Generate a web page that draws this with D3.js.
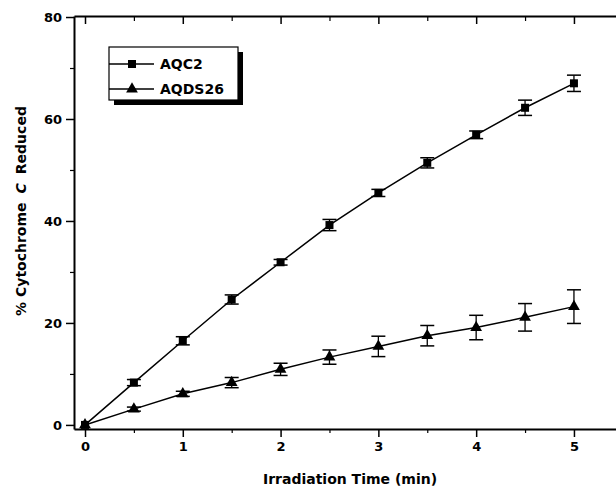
<!DOCTYPE html>
<html>
<head>
<meta charset="utf-8">
<script src="https://cdn.jsdelivr.net/npm/d3@7"></script>
<style>
  body { margin: 0; background: #fff; }
  svg text { font-family: "DejaVu Sans", "Liberation Sans", Arial, sans-serif; fill: #000; }
  .axis path, .axis line { stroke: #000; }
</style>
</head>
<body>
<div id="chart"></div>
<script>
// data
var times   = [0, 0.5, 1, 1.5, 2, 2.5, 3, 3.5, 4, 4.5, 5];
var aqc2    = [0, 8.3, 16.5, 24.6, 31.9, 39.2, 45.5, 51.4, 56.9, 62.2, 67.0];
var aqc2Err = [0.3, 0.6, 0.8, 0.9, 0.55, 1.1, 0.7, 1.0, 0.75, 1.5, 1.6];
var aqds26    = [0, 3.1, 6.1, 8.3, 10.9, 13.3, 15.4, 17.5, 19.1, 21.1, 23.2];
var aqds26Err = [0.3, 0.4, 0.5, 1.0, 1.2, 1.4, 2.0, 2.0, 2.4, 2.7, 3.3];

var xMajor = [0, 1, 2, 3, 4, 5];
var xMinor = [0.5, 1.5, 2.5, 3.5, 4.5];
var yMajor = [0, 20, 40, 60, 80];
var yMinor = [10, 30, 50, 70];

var seriesNames = ["AQC2", "AQDS26"];

var W = 616, H = 487;
var svg = d3.select("#chart").append("svg").attr("width", W).attr("height", H);

var x = d3.scaleLinear().domain([-0.1125, 5.43]).range([74, 616]);
var y = d3.scaleLinear().domain([-0.8, 80.2]).range([429, 16]);

//////////// AXES ////////////

// bottom
svg.append("g").attr("class", "axis").attr("transform", "translate(0," + y(-0.8) + ")")
    .call(d3.axisBottom(x).tickValues(xMajor).tickSize(8).tickSizeOuter(0).tickPadding(5).tickFormat(d3.format("d")))
    .call(function(g) {
        g.select(".domain").attr("stroke-width", 2);
        g.selectAll("line").attr("stroke-width", 1.5);
        g.selectAll("text").attr("font-size", 13).attr("font-weight", "bold");
    });
svg.append("g").attr("class", "axis").attr("transform", "translate(0," + y(-0.8) + ")")
    .call(d3.axisBottom(x).tickValues(xMinor).tickSize(4).tickSizeOuter(0).tickFormat(""))
    .call(function(g) { g.select(".domain").remove(); g.selectAll("line").attr("stroke-width", 1.2); });

// top, ticks pointing in
svg.append("g").attr("class", "axis").attr("transform", "translate(0," + y(80.2) + ")")
    .call(d3.axisTop(x).tickValues(xMajor).tickSize(-8).tickSizeOuter(0).tickFormat(""))
    .call(function(g) { g.select(".domain").attr("stroke-width", 2); g.selectAll("line").attr("stroke-width", 1.5); });
svg.append("g").attr("class", "axis").attr("transform", "translate(0," + y(80.2) + ")")
    .call(d3.axisTop(x).tickValues(xMinor).tickSize(-5).tickSizeOuter(0).tickFormat(""))
    .call(function(g) { g.select(".domain").remove(); g.selectAll("line").attr("stroke-width", 1.2); });

// left
svg.append("g").attr("class", "axis").attr("transform", "translate(" + x(-0.1125) + ",0)")
    .call(d3.axisLeft(y).tickValues(yMajor).tickSize(8).tickSizeOuter(0).tickPadding(4).tickFormat(d3.format("d")))
    .call(function(g) {
        g.select(".domain").attr("stroke-width", 2);
        g.selectAll("line").attr("stroke-width", 1.5);
        g.selectAll("text").attr("font-size", 13).attr("font-weight", "bold");
    });
svg.append("g").attr("class", "axis").attr("transform", "translate(" + x(-0.1125) + ",0)")
    .call(d3.axisLeft(y).tickValues(yMinor).tickSize(4).tickSizeOuter(0).tickFormat(""))
    .call(function(g) { g.select(".domain").remove(); g.selectAll("line").attr("stroke-width", 1.2); });

// axis titles
svg.append("text")
    .attr("x", 350).attr("y", 484)
    .attr("text-anchor", "middle").attr("font-size", 14).attr("font-weight", "bold")
    .text("Irradiation Time (min)");

var yt = svg.append("text")
    .attr("transform", "translate(26,211) rotate(-90)")
    .attr("text-anchor", "middle").attr("font-size", 14).attr("font-weight", "bold");
yt.append("tspan").text("% Cytochrome");
yt.append("tspan").attr("dx", 9).attr("font-style", "italic").text("C");
yt.append("tspan").attr("dx", 9).text("Reduced");

//////////// SERIES ////////////

var line = d3.line().x(function(d) { return x(d[0]); }).y(function(d) { return y(d[1]); });

function drawSeries(vals, errs, marker) {
    var pts = times.map(function(t, i) { return [t, vals[i], errs[i]]; });
    var g = svg.append("g");
    g.append("path").datum(pts).attr("d", line)
        .attr("fill", "none").attr("stroke", "#000").attr("stroke-width", 1.5);

    var eb = g.selectAll(".err").data(pts.slice(1)).enter().append("g");
    eb.append("line")
        .attr("x1", function(d) { return x(d[0]); }).attr("x2", function(d) { return x(d[0]); })
        .attr("y1", function(d) { return y(d[1] - d[2]); }).attr("y2", function(d) { return y(d[1] + d[2]); })
        .attr("stroke", "#000").attr("stroke-width", 1.3);
    [-1, 1].forEach(function(s) {
        eb.append("line")
            .attr("x1", function(d) { return x(d[0]) - 7; }).attr("x2", function(d) { return x(d[0]) + 7; })
            .attr("y1", function(d) { return y(d[1] + s * d[2]); }).attr("y2", function(d) { return y(d[1] + s * d[2]); })
            .attr("stroke", "#000").attr("stroke-width", 1.5);
    });

    g.selectAll(".mk").data(pts).enter().append("path")
        .attr("transform", function(d) { return "translate(" + x(d[0]) + "," + y(d[1]) + ")"; })
        .attr("d", marker).attr("fill", "#000");
}

var squareSym = d3.symbol().type(d3.symbolSquare).size(64)();
var triSym = d3.symbol().type(d3.symbolTriangle).size(60)();

drawSeries(aqc2, aqc2Err, squareSym);
drawSeries(aqds26, aqds26Err, triSym);

//////////// LEGEND ////////////

var lg = svg.append("g").attr("transform", "translate(109,47)");
lg.append("rect").attr("x", 5).attr("y", 5).attr("width", 129).attr("height", 53).attr("fill", "#000");
lg.append("rect").attr("x", 0).attr("y", 0).attr("width", 129).attr("height", 53)
    .attr("fill", "#fff").attr("stroke", "#000").attr("stroke-width", 1.2);

var syms = [squareSym, triSym];
seriesNames.forEach(function(name, i) {
    var ry = 17 + i * 25;
    lg.append("line").attr("x1", 0).attr("x2", 45).attr("y1", ry).attr("y2", ry)
        .attr("stroke", "#000").attr("stroke-width", 1.3);
    lg.append("path").attr("transform", "translate(23," + ry + ")").attr("d", syms[i]).attr("fill", "#000");
    lg.append("text").attr("x", 51).attr("y", ry + 5)
        .attr("font-size", 14).attr("font-weight", "bold").text(name);
});
</script>
</body>
</html>
